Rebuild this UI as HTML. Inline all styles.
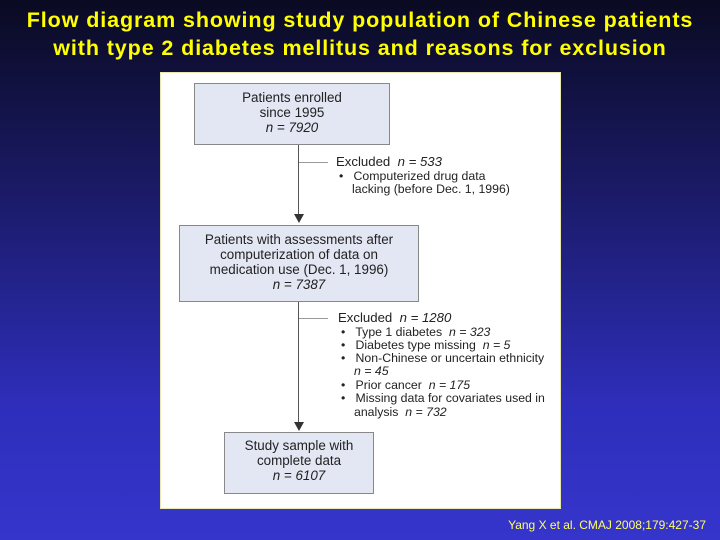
<!DOCTYPE html>
<html><head><style>
body{margin:0;width:720px;height:540px;overflow:hidden;background:linear-gradient(#0a0a22 0%,#1a1a66 35%,#2e2ebb 75%,#3535cc 100%);font-family:"Liberation Sans",sans-serif;position:relative}
.t{position:absolute;left:0;width:720px;text-align:center;color:#ffff00;font-weight:bold;font-size:21.5px;letter-spacing:0.9px;line-height:28px;top:6px}
.p{position:absolute;left:160px;top:72px;width:399px;height:435px;background:#fff;border:1px solid #e8e8b0}
.b{position:absolute;background:#e3e6f3;border:1px solid #888;text-align:center;font-size:13.4px;line-height:15px;color:#222;box-sizing:border-box;white-space:nowrap}
.tx{position:absolute;font-size:13.2px;line-height:13.4px;color:#222;white-space:nowrap}
.s{font-size:12.3px}
i{font-style:italic}
.l{position:absolute;background:#555}
.ft{position:absolute;right:14px;top:518px;color:#ffff66;font-size:12px}
</style></head><body>
<div class="t">Flow diagram showing study population of Chinese patients<br>with type 2 diabetes mellitus and reasons for exclusion</div>
<div class="p"></div>
<div class="b" style="left:194px;top:83px;width:196px;height:62px;padding-top:6px">Patients enrolled<br>since 1995<br><i>n = 7920</i></div>
<div class="l" style="left:298px;top:145px;width:1px;height:73px"></div>
<div class="l" style="left:299px;top:162px;width:29px;height:1px;background:#999"></div>
<div style="position:absolute;left:294px;top:214px;border-left:5px solid transparent;border-right:5px solid transparent;border-top:9px solid #333"></div>
<div class="tx" style="left:336px;top:155px">Excluded&nbsp; <i>n = 533</i></div>
<div class="tx s" style="left:339px;top:170px">•&nbsp;&nbsp; Computerized drug data</div>
<div class="tx s" style="left:352px;top:183px">lacking (before Dec. 1, 1996)</div>
<div class="b" style="left:179px;top:225px;width:240px;height:77px;padding-top:6px">Patients with assessments after<br>computerization of data on<br>medication use (Dec. 1, 1996)<br><i>n = 7387</i></div>
<div class="l" style="left:298px;top:302px;width:1px;height:122px"></div>
<div class="l" style="left:299px;top:318px;width:29px;height:1px;background:#999"></div>
<div style="position:absolute;left:294px;top:422px;border-left:5px solid transparent;border-right:5px solid transparent;border-top:9px solid #333"></div>
<div class="tx" style="left:338px;top:311px">Excluded&nbsp; <i>n = 1280</i></div>
<div class="tx s" style="left:341px;top:326px">•&nbsp;&nbsp; Type 1 diabetes&nbsp; <i>n = 323</i></div>
<div class="tx s" style="left:341px;top:339px">•&nbsp;&nbsp; Diabetes type missing&nbsp; <i>n = 5</i></div>
<div class="tx s" style="left:341px;top:352px">•&nbsp;&nbsp; Non-Chinese or uncertain ethnicity</div>
<div class="tx s" style="left:354px;top:365px"><i>n = 45</i></div>
<div class="tx s" style="left:341px;top:379px">•&nbsp;&nbsp; Prior cancer&nbsp; <i>n = 175</i></div>
<div class="tx s" style="left:341px;top:392px">•&nbsp;&nbsp; Missing data for covariates used in</div>
<div class="tx s" style="left:354px;top:406px">analysis&nbsp; <i>n = 732</i></div>
<div class="b" style="left:224px;top:432px;width:150px;height:62px;padding-top:5px">Study sample with<br>complete data<br><i>n = 6107</i></div>
<div class="ft">Yang X et al. CMAJ 2008;179:427-37</div>
</body></html>
